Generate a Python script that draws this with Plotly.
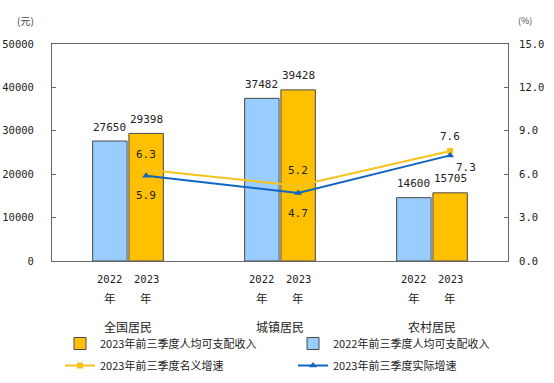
import plotly.graph_objects as go

categories = ["全国居民", "城镇居民", "农村居民"]
years = ["2022", "2023"]
income_2022 = [27650, 37482, 14600]
income_2023 = [29398, 39428, 15705]
nominal_growth = [6.3, 5.2, 7.6]
real_growth = [5.9, 4.7, 7.3]

series_names = {
    "inc22": "2022年前三季度人均可支配收入",
    "inc23": "2023年前三季度人均可支配收入",
    "nom": "2023年前三季度名义增速",
    "real": "2023年前三季度实际增速",
}

MONO = "DejaVu Sans Mono"
CJK = "Noto Sans CJK SC"
BLUE_BAR = "#99CCFF"
GOLD = "#FFC000"
LINE_Y = "#F7C31A"
LINE_B = "#0F66C0"
EDGE = "#4a4a4a"
TXT = "#222"

W, H = 554, 383
ML, MR, MT, MB = 52, 46, 44, 122
PH = H - MT - MB

BARGAP = 0.523
x_idx = list(range(len(categories)))
offset = (1 - BARGAP) / 4  # centre of each bar in a group of two

fig = go.Figure()
fig.add_trace(go.Bar(
    x=x_idx, y=income_2022, name=series_names["inc22"], legend="legend2",
    marker=dict(color=BLUE_BAR, line=dict(color=EDGE, width=1)),
))
fig.add_trace(go.Bar(
    x=x_idx, y=income_2023, name=series_names["inc23"], legend="legend",
    marker=dict(color=GOLD, line=dict(color=EDGE, width=1)),
))
line_x = [i + offset for i in x_idx]
fig.add_trace(go.Scatter(
    x=line_x, y=nominal_growth, yaxis="y2", name=series_names["nom"],
    legend="legend3", mode="lines+markers", line=dict(color=LINE_Y, width=2),
    marker=dict(symbol="square", size=6, color=LINE_Y),
))
fig.add_trace(go.Scatter(
    x=line_x, y=real_growth, yaxis="y2", name=series_names["real"],
    legend="legend4", mode="lines+markers", line=dict(color=LINE_B, width=2),
    marker=dict(symbol="triangle-up", size=7, color=LINE_B),
))

lab_font = dict(family=MONO, size=11, color=TXT)
# bar value labels
for series, sign in ((income_2022, -1), (income_2023, 1)):
    for k, v in enumerate(series):
        fig.add_annotation(x=x_idx[k] + sign * offset, y=v, xref="x", yref="y", text=str(v),
                           showarrow=False, yanchor="middle", yshift=14, font=lab_font)
# growth labels
for k, v in enumerate(nominal_growth):
    fig.add_annotation(x=line_x[k], y=v, xref="x", yref="y2", text=f"{v:.1f}", showarrow=False,
                       yanchor="middle", yshift=15, font=lab_font)
for k, v in enumerate(real_growth):
    last = k == len(real_growth) - 1
    fig.add_annotation(x=line_x[k], y=v, xref="x", yref="y2", text=f"{v:.1f}", showarrow=False,
                       yanchor="middle", yshift=-12 if last else -20, xshift=16 if last else 0,
                       font=lab_font)

# category / year labels under the axis
for i, cat in enumerate(categories):
    for j, yr in enumerate(years):
        xc = i + (offset if j == 1 else -offset)
        fig.add_annotation(x=xc, y=0, xref="x", yref="paper", text=yr, showarrow=False,
                           yanchor="middle", yshift=-18, font=dict(family=MONO, size=10.5, color=TXT))
        fig.add_annotation(x=xc, y=0, xref="x", yref="paper", text="年", showarrow=False,
                           yanchor="middle", yshift=-37, font=dict(family=CJK, size=11.5, color=TXT))
    fig.add_annotation(x=i, y=0, xref="x", yref="paper", text=cat, showarrow=False,
                       yanchor="middle", yshift=-65.5, font=dict(family=CJK, size=12, color=TXT))

fig.add_annotation(x=(25.5 - ML) / (W - ML - MR), y=1 + 23.3 / PH, xref="paper", yref="paper",
                   text="(元)", showarrow=False, xanchor="center", yanchor="middle",
                   font=dict(family=CJK, size=10, color="#444"))
fig.add_annotation(x=(525 - ML) / (W - ML - MR), y=1 + 23.3 / PH, xref="paper", yref="paper",
                   text="(%)", showarrow=False, xanchor="center", yanchor="middle",
                   font=dict(family=CJK, size=9, color="#444"))

legend_common = dict(orientation="h", xref="container", yref="container",
                     xanchor="left", yanchor="top",
                     font=dict(family=CJK, size=11, color=TXT), itemwidth=30,
                     bgcolor="rgba(0,0,0,0)")
col1, col2 = 60 / W, 293 / W
row1, row2 = 1 - 329 / H, 1 - 351 / H

fig.update_layout(
    width=W, height=H,
    margin=dict(l=ML, r=MR, t=MT, b=MB, autoexpand=False),
    paper_bgcolor="white", plot_bgcolor="white",
    barmode="group", bargap=BARGAP, bargroupgap=0.05,
    font=dict(family=MONO, size=11, color=TXT),
    xaxis=dict(range=[-0.5, 2.5], showticklabels=False, ticks="", showgrid=False, zeroline=False,
               showline=True, linecolor="#666", linewidth=1, mirror=True),
    yaxis=dict(range=[0, 50000], dtick=10000, tickformat="d", ticks="inside", ticklen=4,
               tickcolor="#666", showgrid=False, zeroline=False, showline=True,
               linecolor="#666", linewidth=1, ticklabelstandoff=15,
               tickfont=dict(family=MONO, size=10.5, color=TXT)),
    yaxis2=dict(range=[0, 15], dtick=3, tickformat=".1f", overlaying="y", side="right",
                ticks="inside", ticklen=4, tickcolor="#666", showgrid=False, zeroline=False,
                showline=True, linecolor="#666", linewidth=1, ticklabelstandoff=8,
                tickfont=dict(family=MONO, size=10.5, color=TXT)),
    legend=dict(legend_common, x=col1, y=row1),
    legend2=dict(legend_common, x=col2, y=row1),
    legend3=dict(legend_common, x=col1, y=row2),
    legend4=dict(legend_common, x=col2, y=row2),
    showlegend=True,
)

fig.write_html("out.html", post_script="document.body.style.margin='0';",
               config={"displayModeBar": False})
